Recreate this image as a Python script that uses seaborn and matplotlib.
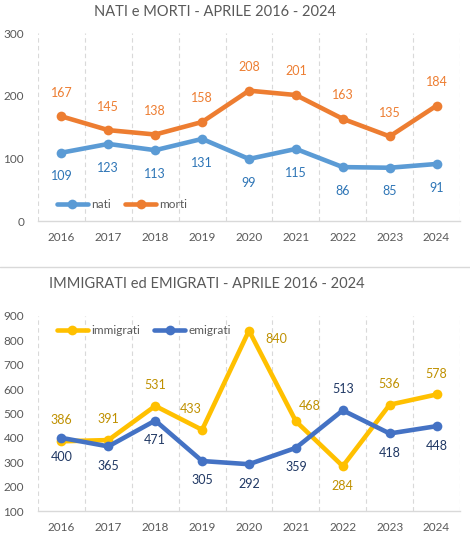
import matplotlib
matplotlib.use("Agg")
import matplotlib.pyplot as plt
import seaborn as sns
import pandas as pd
import numpy as np

years = ["2016", "2017", "2018", "2019", "2020", "2021", "2022", "2023", "2024"]
nati = [109, 123, 113, 131, 99, 115, 86, 85, 91]
morti = [167, 145, 138, 158, 208, 201, 163, 135, 184]
immigrati = [386, 391, 531, 433, 840, 468, 284, 536, 578]
emigrati = [400, 365, 471, 305, 292, 359, 513, 418, 448]

title_top = "NATI e MORTI - APRILE 2016 - 2024"
title_bottom = "IMMIGRATI ed EMIGRATI - APRILE 2016 - 2024"

sns.set_theme(style="white")
plt.rcParams['font.family'] = ['Lato', 'DejaVu Sans']

W, H = 470, 543
fig = plt.figure(figsize=(W / 100, H / 100), dpi=100)
fig.patch.set_facecolor("white")

def ax_px(left, top, right, bottom):
    return fig.add_axes([left / W, 1 - bottom / H, (right - left) / W, (bottom - top) / H])

ax1 = ax_px(38, 33, 460, 221)
ax2 = ax_px(38, 316, 460, 511)

txt_col = "#595959"

def style(ax, ylim, yticks):
    ax.set_xlim(-0.5, len(years) - 0.5)
    ax.set_ylim(*ylim)
    ax.set_yticks(yticks)
    ax.set_xticks(range(len(years)))
    ax.set_xticklabels(years)
    for b in np.arange(-0.5, len(years), 1.0):
        ax.axvline(b, color="#D9D9D9", lw=0.8, ls=(0, (4, 3)), zorder=0)
    for s in ["top", "right", "left"]:
        ax.spines[s].set_visible(False)
    ax.spines["bottom"].set_color("#D9D9D9")
    ax.spines["bottom"].set_linewidth(1.0)
    ax.tick_params(axis="both", length=0, labelsize=8.5, colors=txt_col, pad=8)
    ax.tick_params(axis="y", pad=10)
    ax.set_xlabel("")
    ax.set_ylabel("")
    ax.set_facecolor("white")

# --- top chart ---
df1 = pd.DataFrame({
    "x": list(range(len(years))) * 2,
    "v": nati + morti,
    "serie": ["nati"] * len(years) + ["morti"] * len(years),
})
pal1 = {"nati": "#5B9BD5", "morti": "#ED7D31"}
sns.lineplot(data=df1, x="x", y="v", hue="serie", palette=pal1, marker="o",
             markersize=7, markeredgewidth=0, linewidth=3.3, ax=ax1, legend=True)
style(ax1, (0, 300), [0, 100, 200, 300])
for i, (a, b) in enumerate(zip(nati, morti)):
    ax1.annotate(str(a), (i, a), xytext=(0, -17), textcoords="offset points",
                 ha="center", va="center", fontsize=9, color="#2E75B6")
    ax1.annotate(str(b), (i, b), xytext=(0, 17), textcoords="offset points",
                 ha="center", va="center", fontsize=9, color="#ED7D31")
leg = ax1.legend(loc="lower left", bbox_to_anchor=(0.02, 0.0), ncol=2, frameon=False,
                 fontsize=8.5, handlelength=2.6, columnspacing=1.2, handletextpad=0.3)
for t in leg.get_texts():
    t.set_color(txt_col)
fig.text(215 / W, 1 - 12 / H, title_top, ha="center", va="center", fontsize=10.5, color=txt_col)

# separator line
fig.add_artist(plt.Line2D([0, 1], [1 - 267 / H, 1 - 267 / H], color="#D9D9D9", lw=1.0,
                          transform=fig.transFigure))

# --- bottom chart ---
df2 = pd.DataFrame({
    "x": list(range(len(years))) * 2,
    "v": immigrati + emigrati,
    "serie": ["immigrati"] * len(years) + ["emigrati"] * len(years),
})
pal2 = {"immigrati": "#FFC000", "emigrati": "#4472C4"}
sns.lineplot(data=df2, x="x", y="v", hue="serie", palette=pal2, marker="o",
             markersize=7, markeredgewidth=0, linewidth=3.3, ax=ax2, legend=True)
style(ax2, (100, 900), list(range(100, 1000, 100)))

imm_off = [(0, 15), (0, 15), (0, 15), (-8, 15), (20, -6), (10, 11), (0, -14), (0, 15), (0, 15)]
emi_off = [(0, -14), (0, -14), (0, -14), (0, -14), (0, -14), (0, -14), (0, 15), (0, -14), (0, -14)]
for i, (a, b) in enumerate(zip(immigrati, emigrati)):
    ax2.annotate(str(a), (i, a), xytext=imm_off[i], textcoords="offset points",
                 ha="center", va="center", fontsize=9, color="#BF9000")
    ax2.annotate(str(b), (i, b), xytext=emi_off[i], textcoords="offset points",
                 ha="center", va="center", fontsize=9, color="#203864")
leg2 = ax2.legend(loc="upper left", bbox_to_anchor=(0.02, 1.01), ncol=2, frameon=False,
                  fontsize=8.5, handlelength=2.6, columnspacing=1.2, handletextpad=0.3)
for t in leg2.get_texts():
    t.set_color(txt_col)
fig.text(207 / W, 1 - 284 / H, title_bottom, ha="center", va="center", fontsize=10.5, color=txt_col)

fig.savefig("out.png", dpi=100, facecolor="white")
